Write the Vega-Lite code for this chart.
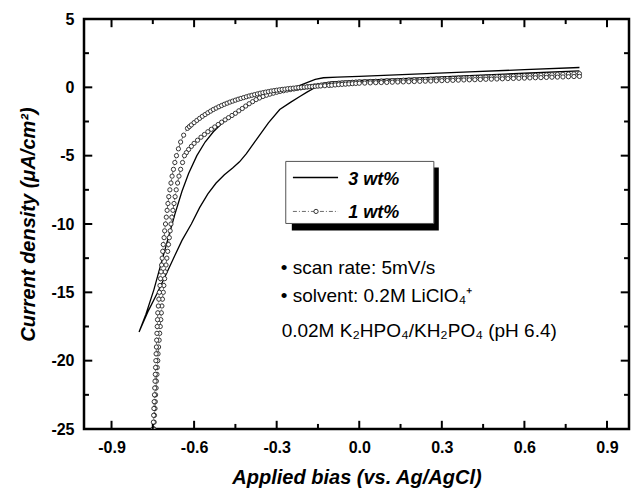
{
  "$schema": "https://vega.github.io/schema/vega-lite/v6.json",
  "width": 545,
  "height": 410,
  "autosize": {"type": "none"},
  "padding": {"left": 84, "top": 19, "right": 5, "bottom": 60},
  "background": "white",
  "config": {
    "view": {"stroke": "black", "strokeWidth": 2.5},
    "font": "Liberation Sans",
    "axis": {
      "grid": false,
      "domain": false,
      "tickColor": "black",
      "tickWidth": 2,
      "labelFont": "Liberation Sans",
      "labelFontWeight": "bold",
      "labelFontSize": 16,
      "labelColor": "black",
      "titleFont": "Liberation Sans",
      "titleFontWeight": "bold",
      "titleFontStyle": "italic",
      "titleFontSize": 20,
      "titleColor": "black"
    }
  },
  "datasets": {
    "xmaj": [{"t":-0.9},{"t":-0.6},{"t":-0.3},{"t":0.0},{"t":0.3},{"t":0.6},{"t":0.9}],
    "xmin": [{"t":-0.75},{"t":-0.45},{"t":-0.15},{"t":0.15},{"t":0.45},{"t":0.75}],
    "ymaj": [{"t":-25},{"t":-20},{"t":-15},{"t":-10},{"t":-5},{"t":0},{"t":5}],
    "ymin": [{"t":-22.5},{"t":-17.5},{"t":-12.5},{"t":-7.5},{"t":-2.5},{"t":2.5}],
    "cv": [
      {"s":"3 wt%","v":0.8,"j":1.2},{"s":"3 wt%","v":0.6,"j":1.03},{"s":"3 wt%","v":0.4,"j":0.85},{"s":"3 wt%","v":0.2,"j":0.68},{"s":"3 wt%","v":0.0,"j":0.5},{"s":"3 wt%","v":-0.1,"j":0.4},{"s":"3 wt%","v":-0.13,"j":0.3},{"s":"3 wt%","v":-0.15,"j":0.15},{"s":"3 wt%","v":-0.168,"j":-0.1},{"s":"3 wt%","v":-0.19,"j":-0.35},{"s":"3 wt%","v":-0.216,"j":-0.67},{"s":"3 wt%","v":-0.25,"j":-1.1},{"s":"3 wt%","v":-0.289,"j":-1.62},{"s":"3 wt%","v":-0.33,"j":-2.6},{"s":"3 wt%","v":-0.373,"j":-3.81},{"s":"3 wt%","v":-0.41,"j":-4.85},{"s":"3 wt%","v":-0.435,"j":-5.45},{"s":"3 wt%","v":-0.46,"j":-5.9},{"s":"3 wt%","v":-0.49,"j":-6.4},{"s":"3 wt%","v":-0.52,"j":-7.0},{"s":"3 wt%","v":-0.55,"j":-7.8},{"s":"3 wt%","v":-0.58,"j":-8.8},{"s":"3 wt%","v":-0.61,"j":-10.0},{"s":"3 wt%","v":-0.644,"j":-11.2},{"s":"3 wt%","v":-0.67,"j":-12.3},{"s":"3 wt%","v":-0.7,"j":-13.6},{"s":"3 wt%","v":-0.735,"j":-15.1},{"s":"3 wt%","v":-0.765,"j":-16.3},{"s":"3 wt%","v":-0.785,"j":-17.2},{"s":"3 wt%","v":-0.8,"j":-17.9},
      {"s":"3 wt%","v":-0.775,"j":-16.6},{"s":"3 wt%","v":-0.746,"j":-14.8},{"s":"3 wt%","v":-0.72,"j":-12.9},{"s":"3 wt%","v":-0.695,"j":-11.1},{"s":"3 wt%","v":-0.67,"j":-9.3},{"s":"3 wt%","v":-0.644,"j":-7.6},{"s":"3 wt%","v":-0.62,"j":-6.3},{"s":"3 wt%","v":-0.59,"j":-5.0},{"s":"3 wt%","v":-0.56,"j":-4.0},{"s":"3 wt%","v":-0.53,"j":-3.25},{"s":"3 wt%","v":-0.5,"j":-2.65},{"s":"3 wt%","v":-0.46,"j":-2.05},{"s":"3 wt%","v":-0.42,"j":-1.5},{"s":"3 wt%","v":-0.38,"j":-1.0},{"s":"3 wt%","v":-0.34,"j":-0.6},{"s":"3 wt%","v":-0.3,"j":-0.3},{"s":"3 wt%","v":-0.26,"j":-0.1},{"s":"3 wt%","v":-0.22,"j":0.1},{"s":"3 wt%","v":-0.19,"j":0.35},{"s":"3 wt%","v":-0.16,"j":0.58},{"s":"3 wt%","v":-0.13,"j":0.7},{"s":"3 wt%","v":-0.08,"j":0.75},{"s":"3 wt%","v":0.0,"j":0.8},{"s":"3 wt%","v":0.2,"j":0.97},{"s":"3 wt%","v":0.4,"j":1.13},{"s":"3 wt%","v":0.6,"j":1.29},{"s":"3 wt%","v":0.8,"j":1.45},

      {"s":"1 wt%","v":0.8,"j":1.0},{"s":"1 wt%","v":0.78,"j":0.985},{"s":"1 wt%","v":0.76,"j":0.97},{"s":"1 wt%","v":0.74,"j":0.955},{"s":"1 wt%","v":0.72,"j":0.94},{"s":"1 wt%","v":0.7,"j":0.925},{"s":"1 wt%","v":0.68,"j":0.91},{"s":"1 wt%","v":0.66,"j":0.895},{"s":"1 wt%","v":0.64,"j":0.88},{"s":"1 wt%","v":0.62,"j":0.865},{"s":"1 wt%","v":0.6,"j":0.85},{"s":"1 wt%","v":0.58,"j":0.835},{"s":"1 wt%","v":0.56,"j":0.82},{"s":"1 wt%","v":0.54,"j":0.805},{"s":"1 wt%","v":0.52,"j":0.79},{"s":"1 wt%","v":0.5,"j":0.775},{"s":"1 wt%","v":0.48,"j":0.76},{"s":"1 wt%","v":0.46,"j":0.745},{"s":"1 wt%","v":0.44,"j":0.73},{"s":"1 wt%","v":0.42,"j":0.715},{"s":"1 wt%","v":0.4,"j":0.7},{"s":"1 wt%","v":0.38,"j":0.685},{"s":"1 wt%","v":0.36,"j":0.67},{"s":"1 wt%","v":0.34,"j":0.655},{"s":"1 wt%","v":0.32,"j":0.64},{"s":"1 wt%","v":0.3,"j":0.625},{"s":"1 wt%","v":0.28,"j":0.61},{"s":"1 wt%","v":0.26,"j":0.595},{"s":"1 wt%","v":0.24,"j":0.58},{"s":"1 wt%","v":0.22,"j":0.565},{"s":"1 wt%","v":0.2,"j":0.55},{"s":"1 wt%","v":0.18,"j":0.535},{"s":"1 wt%","v":0.16,"j":0.52},{"s":"1 wt%","v":0.14,"j":0.505},{"s":"1 wt%","v":0.12,"j":0.49},{"s":"1 wt%","v":0.1,"j":0.475},{"s":"1 wt%","v":0.08,"j":0.46},{"s":"1 wt%","v":0.06,"j":0.445},{"s":"1 wt%","v":0.04,"j":0.43},{"s":"1 wt%","v":0.02,"j":0.415},{"s":"1 wt%","v":0.0,"j":0.4},
      {"s":"1 wt%","v":-0.0125,"j":0.385},{"s":"1 wt%","v":-0.025,"j":0.37},{"s":"1 wt%","v":-0.0375,"j":0.355},{"s":"1 wt%","v":-0.05,"j":0.34},{"s":"1 wt%","v":-0.0625,"j":0.32},{"s":"1 wt%","v":-0.075,"j":0.3},{"s":"1 wt%","v":-0.0875,"j":0.28},{"s":"1 wt%","v":-0.1,"j":0.26},{"s":"1 wt%","v":-0.1125,"j":0.23},{"s":"1 wt%","v":-0.125,"j":0.2},{"s":"1 wt%","v":-0.1375,"j":0.17},{"s":"1 wt%","v":-0.15,"j":0.14},{"s":"1 wt%","v":-0.1625,"j":0.105},{"s":"1 wt%","v":-0.175,"j":0.07},{"s":"1 wt%","v":-0.1875,"j":0.035},{"s":"1 wt%","v":-0.2,"j":0.0},{"s":"1 wt%","v":-0.2125,"j":-0.04},{"s":"1 wt%","v":-0.225,"j":-0.08},{"s":"1 wt%","v":-0.2375,"j":-0.12},{"s":"1 wt%","v":-0.25,"j":-0.16},{"s":"1 wt%","v":-0.2625,"j":-0.2},{"s":"1 wt%","v":-0.275,"j":-0.25},{"s":"1 wt%","v":-0.2875,"j":-0.3},{"s":"1 wt%","v":-0.3,"j":-0.36},{"s":"1 wt%","v":-0.3125,"j":-0.43},{"s":"1 wt%","v":-0.325,"j":-0.5},{"s":"1 wt%","v":-0.3375,"j":-0.58},{"s":"1 wt%","v":-0.35,"j":-0.67},{"s":"1 wt%","v":-0.3625,"j":-0.78},{"s":"1 wt%","v":-0.375,"j":-0.9},{"s":"1 wt%","v":-0.3875,"j":-1.05},{"s":"1 wt%","v":-0.4,"j":-1.2},{"s":"1 wt%","v":-0.4125,"j":-1.37},{"s":"1 wt%","v":-0.425,"j":-1.55},{"s":"1 wt%","v":-0.4375,"j":-1.72},{"s":"1 wt%","v":-0.45,"j":-1.9},{"s":"1 wt%","v":-0.4625,"j":-2.06},{"s":"1 wt%","v":-0.475,"j":-2.22},{"s":"1 wt%","v":-0.4875,"j":-2.38},{"s":"1 wt%","v":-0.5,"j":-2.55},{"s":"1 wt%","v":-0.5125,"j":-2.72},{"s":"1 wt%","v":-0.525,"j":-2.9},{"s":"1 wt%","v":-0.5375,"j":-3.07},{"s":"1 wt%","v":-0.55,"j":-3.25},{"s":"1 wt%","v":-0.5625,"j":-3.45},{"s":"1 wt%","v":-0.575,"j":-3.65},{"s":"1 wt%","v":-0.5875,"j":-3.87},{"s":"1 wt%","v":-0.6,"j":-4.1},{"s":"1 wt%","v":-0.61,"j":-4.32},{"s":"1 wt%","v":-0.62,"j":-4.55},{"s":"1 wt%","v":-0.628,"j":-4.78},
      {"s":"1 wt%","v":-0.635,"j":-5.0},{"s":"1 wt%","v":-0.642,"j":-5.5},{"s":"1 wt%","v":-0.649,"j":-6.0},{"s":"1 wt%","v":-0.655,"j":-6.5},{"s":"1 wt%","v":-0.66,"j":-7.0},{"s":"1 wt%","v":-0.665,"j":-7.5},{"s":"1 wt%","v":-0.669,"j":-8.0},{"s":"1 wt%","v":-0.673,"j":-8.5},{"s":"1 wt%","v":-0.677,"j":-9.0},{"s":"1 wt%","v":-0.681,"j":-9.5},{"s":"1 wt%","v":-0.684,"j":-10.0},{"s":"1 wt%","v":-0.687,"j":-10.5},{"s":"1 wt%","v":-0.69,"j":-11.0},{"s":"1 wt%","v":-0.693,"j":-11.5},{"s":"1 wt%","v":-0.696,"j":-12.0},{"s":"1 wt%","v":-0.699,"j":-12.5},{"s":"1 wt%","v":-0.702,"j":-13.0},{"s":"1 wt%","v":-0.705,"j":-13.5},{"s":"1 wt%","v":-0.707,"j":-14.0},{"s":"1 wt%","v":-0.71,"j":-14.5},{"s":"1 wt%","v":-0.712,"j":-15.0},{"s":"1 wt%","v":-0.715,"j":-15.5},{"s":"1 wt%","v":-0.717,"j":-16.0},{"s":"1 wt%","v":-0.719,"j":-16.5},{"s":"1 wt%","v":-0.721,"j":-17.0},{"s":"1 wt%","v":-0.723,"j":-17.5},{"s":"1 wt%","v":-0.725,"j":-18.0},{"s":"1 wt%","v":-0.727,"j":-18.5},{"s":"1 wt%","v":-0.729,"j":-19.0},{"s":"1 wt%","v":-0.731,"j":-19.5},{"s":"1 wt%","v":-0.732,"j":-20.0},{"s":"1 wt%","v":-0.734,"j":-20.5},{"s":"1 wt%","v":-0.735,"j":-21.0},{"s":"1 wt%","v":-0.737,"j":-21.5},{"s":"1 wt%","v":-0.738,"j":-22.0},{"s":"1 wt%","v":-0.74,"j":-22.5},{"s":"1 wt%","v":-0.741,"j":-23.0},{"s":"1 wt%","v":-0.742,"j":-23.5},{"s":"1 wt%","v":-0.744,"j":-24.0},{"s":"1 wt%","v":-0.745,"j":-24.5},{"s":"1 wt%","v":-0.746,"j":-25.0},{"s":"1 wt%","v":-0.747,"j":-25.5},
      {"s":"1 wt%","v":-0.75,"j":-25.5},{"s":"1 wt%","v":-0.749,"j":-25.0},{"s":"1 wt%","v":-0.748,"j":-24.5},{"s":"1 wt%","v":-0.747,"j":-24.0},{"s":"1 wt%","v":-0.746,"j":-23.5},{"s":"1 wt%","v":-0.745,"j":-23.0},{"s":"1 wt%","v":-0.744,"j":-22.5},{"s":"1 wt%","v":-0.743,"j":-22.0},{"s":"1 wt%","v":-0.742,"j":-21.5},{"s":"1 wt%","v":-0.741,"j":-21.0},{"s":"1 wt%","v":-0.74,"j":-20.5},{"s":"1 wt%","v":-0.739,"j":-20.0},{"s":"1 wt%","v":-0.738,"j":-19.5},{"s":"1 wt%","v":-0.737,"j":-19.0},{"s":"1 wt%","v":-0.736,"j":-18.5},{"s":"1 wt%","v":-0.735,"j":-18.0},{"s":"1 wt%","v":-0.734,"j":-17.5},{"s":"1 wt%","v":-0.733,"j":-17.0},{"s":"1 wt%","v":-0.732,"j":-16.5},{"s":"1 wt%","v":-0.73,"j":-16.0},{"s":"1 wt%","v":-0.728,"j":-15.5},{"s":"1 wt%","v":-0.726,"j":-15.0},{"s":"1 wt%","v":-0.724,"j":-14.5},{"s":"1 wt%","v":-0.722,"j":-14.0},{"s":"1 wt%","v":-0.72,"j":-13.5},{"s":"1 wt%","v":-0.718,"j":-13.0},{"s":"1 wt%","v":-0.716,"j":-12.5},{"s":"1 wt%","v":-0.714,"j":-12.0},{"s":"1 wt%","v":-0.712,"j":-11.5},{"s":"1 wt%","v":-0.709,"j":-11.0},{"s":"1 wt%","v":-0.707,"j":-10.5},{"s":"1 wt%","v":-0.704,"j":-10.0},{"s":"1 wt%","v":-0.701,"j":-9.5},{"s":"1 wt%","v":-0.698,"j":-9.0},{"s":"1 wt%","v":-0.695,"j":-8.5},{"s":"1 wt%","v":-0.692,"j":-8.0},{"s":"1 wt%","v":-0.688,"j":-7.5},{"s":"1 wt%","v":-0.684,"j":-7.0},{"s":"1 wt%","v":-0.68,"j":-6.5},{"s":"1 wt%","v":-0.675,"j":-6.0},{"s":"1 wt%","v":-0.67,"j":-5.5},{"s":"1 wt%","v":-0.664,"j":-5.0},{"s":"1 wt%","v":-0.657,"j":-4.5},{"s":"1 wt%","v":-0.649,"j":-4.0},{"s":"1 wt%","v":-0.638,"j":-3.5},{"s":"1 wt%","v":-0.624,"j":-3.0},
      {"s":"1 wt%","v":-0.617,"j":-2.87},{"s":"1 wt%","v":-0.61,"j":-2.75},{"s":"1 wt%","v":-0.6,"j":-2.58},{"s":"1 wt%","v":-0.59,"j":-2.42},{"s":"1 wt%","v":-0.58,"j":-2.27},{"s":"1 wt%","v":-0.57,"j":-2.12},{"s":"1 wt%","v":-0.56,"j":-1.99},{"s":"1 wt%","v":-0.55,"j":-1.86},{"s":"1 wt%","v":-0.54,"j":-1.74},{"s":"1 wt%","v":-0.53,"j":-1.62},{"s":"1 wt%","v":-0.52,"j":-1.52},{"s":"1 wt%","v":-0.51,"j":-1.42},{"s":"1 wt%","v":-0.5,"j":-1.33},{"s":"1 wt%","v":-0.49,"j":-1.24},{"s":"1 wt%","v":-0.48,"j":-1.16},{"s":"1 wt%","v":-0.47,"j":-1.08},{"s":"1 wt%","v":-0.46,"j":-1.01},{"s":"1 wt%","v":-0.45,"j":-0.94},{"s":"1 wt%","v":-0.44,"j":-0.87},{"s":"1 wt%","v":-0.43,"j":-0.81},{"s":"1 wt%","v":-0.42,"j":-0.75},{"s":"1 wt%","v":-0.41,"j":-0.69},{"s":"1 wt%","v":-0.4,"j":-0.63},{"s":"1 wt%","v":-0.39,"j":-0.58},{"s":"1 wt%","v":-0.38,"j":-0.53},{"s":"1 wt%","v":-0.37,"j":-0.48},{"s":"1 wt%","v":-0.36,"j":-0.43},{"s":"1 wt%","v":-0.35,"j":-0.39},{"s":"1 wt%","v":-0.34,"j":-0.35},{"s":"1 wt%","v":-0.33,"j":-0.31},{"s":"1 wt%","v":-0.32,"j":-0.27},{"s":"1 wt%","v":-0.31,"j":-0.24},{"s":"1 wt%","v":-0.3,"j":-0.21},{"s":"1 wt%","v":-0.29,"j":-0.18},{"s":"1 wt%","v":-0.28,"j":-0.15},{"s":"1 wt%","v":-0.27,"j":-0.13},{"s":"1 wt%","v":-0.26,"j":-0.1},{"s":"1 wt%","v":-0.25,"j":-0.08},{"s":"1 wt%","v":-0.24,"j":-0.06},{"s":"1 wt%","v":-0.23,"j":-0.04},{"s":"1 wt%","v":-0.22,"j":-0.02},{"s":"1 wt%","v":-0.21,"j":0.0},{"s":"1 wt%","v":-0.2,"j":0.015},{"s":"1 wt%","v":-0.19,"j":0.03},{"s":"1 wt%","v":-0.18,"j":0.045},{"s":"1 wt%","v":-0.17,"j":0.06},{"s":"1 wt%","v":-0.16,"j":0.075},{"s":"1 wt%","v":-0.15,"j":0.09},{"s":"1 wt%","v":-0.14,"j":0.1},{"s":"1 wt%","v":-0.125,"j":0.12},{"s":"1 wt%","v":-0.11,"j":0.14},{"s":"1 wt%","v":-0.1,"j":0.15},{"s":"1 wt%","v":-0.0875,"j":0.175},{"s":"1 wt%","v":-0.075,"j":0.2},{"s":"1 wt%","v":-0.0625,"j":0.215},{"s":"1 wt%","v":-0.05,"j":0.23},{"s":"1 wt%","v":-0.0375,"j":0.25},{"s":"1 wt%","v":-0.025,"j":0.27},{"s":"1 wt%","v":-0.0125,"j":0.285},{"s":"1 wt%","v":0.0,"j":0.3},
      {"s":"1 wt%","v":0.02,"j":0.31},{"s":"1 wt%","v":0.04,"j":0.325},{"s":"1 wt%","v":0.06,"j":0.34},{"s":"1 wt%","v":0.08,"j":0.35},{"s":"1 wt%","v":0.1,"j":0.36},{"s":"1 wt%","v":0.12,"j":0.375},{"s":"1 wt%","v":0.14,"j":0.39},{"s":"1 wt%","v":0.16,"j":0.4},{"s":"1 wt%","v":0.18,"j":0.41},{"s":"1 wt%","v":0.2,"j":0.425},{"s":"1 wt%","v":0.22,"j":0.44},{"s":"1 wt%","v":0.24,"j":0.45},{"s":"1 wt%","v":0.26,"j":0.46},{"s":"1 wt%","v":0.28,"j":0.475},{"s":"1 wt%","v":0.3,"j":0.49},{"s":"1 wt%","v":0.32,"j":0.5},{"s":"1 wt%","v":0.34,"j":0.51},{"s":"1 wt%","v":0.36,"j":0.525},{"s":"1 wt%","v":0.38,"j":0.54},{"s":"1 wt%","v":0.4,"j":0.55},{"s":"1 wt%","v":0.42,"j":0.56},{"s":"1 wt%","v":0.44,"j":0.575},{"s":"1 wt%","v":0.46,"j":0.59},{"s":"1 wt%","v":0.48,"j":0.6},{"s":"1 wt%","v":0.5,"j":0.61},{"s":"1 wt%","v":0.52,"j":0.625},{"s":"1 wt%","v":0.54,"j":0.64},{"s":"1 wt%","v":0.56,"j":0.65},{"s":"1 wt%","v":0.58,"j":0.66},{"s":"1 wt%","v":0.6,"j":0.675},{"s":"1 wt%","v":0.62,"j":0.69},{"s":"1 wt%","v":0.64,"j":0.7},{"s":"1 wt%","v":0.66,"j":0.71},{"s":"1 wt%","v":0.68,"j":0.725},{"s":"1 wt%","v":0.7,"j":0.74},{"s":"1 wt%","v":0.72,"j":0.75},{"s":"1 wt%","v":0.74,"j":0.76},{"s":"1 wt%","v":0.76,"j":0.775},{"s":"1 wt%","v":0.78,"j":0.79},{"s":"1 wt%","v":0.8,"j":0.8}
    ]
  },
  "data": {"name": "cv"},
  "resolve": {"axis": {"x": "independent", "y": "independent"}},
  "layer": [
    {
      "transform": [{"filter": "datum.s == '3 wt%'"}],
      "mark": {"type": "line", "color": "black", "strokeWidth": 1.3, "clip": true},
      "encoding": {
        "x": {"field": "v", "type": "quantitative", "scale": {"domain": [-1.0, 0.98], "nice": false, "zero": false},
              "axis": {"orient": "bottom", "values": [-0.9, -0.6, -0.3, 0, 0.3, 0.6, 0.9], "ticks": false, "labelPadding": 10,
                       "labelExpr": "(datum.value < -0.001 ? '-' : '') + format(abs(datum.value), '.1f')",
                       "title": "Applied bias (vs. Ag/AgCl)", "titlePadding": 12}},
        "y": {"field": "j", "type": "quantitative", "scale": {"domain": [-25, 5], "nice": false, "zero": false},
              "axis": {"orient": "left", "values": [-25, -20, -15, -10, -5, 0, 5], "ticks": false, "labelPadding": 10,
                       "labelExpr": "(datum.value < 0 ? '-' : '') + abs(datum.value)",
                       "title": "Current density (μA/cm²)", "titlePadding": 12}},
        "order": {"value": null}
      }
    },
    {
      "transform": [{"filter": "datum.s == '1 wt%'"}],
      "mark": {"type": "line", "color": "#444444", "strokeWidth": 0.8, "strokeDash": [4, 2, 1, 2], "clip": true},
      "encoding": {
        "x": {"field": "v", "type": "quantitative", "scale": {"domain": [-1.0, 0.98], "nice": false, "zero": false}, "axis": null},
        "y": {"field": "j", "type": "quantitative", "scale": {"domain": [-25, 5], "nice": false, "zero": false}, "axis": null},
        "order": {"value": null}
      }
    },
    {
      "transform": [{"filter": "datum.s == '1 wt%'"}],
      "mark": {"type": "point", "shape": "circle", "filled": true, "fill": "white", "stroke": "#222222", "strokeWidth": 0.9, "size": 18, "opacity": 1, "clip": true},
      "encoding": {
        "x": {"field": "v", "type": "quantitative", "scale": {"domain": [-1.0, 0.98], "nice": false, "zero": false}, "axis": null},
        "y": {"field": "j", "type": "quantitative", "scale": {"domain": [-25, 5], "nice": false, "zero": false}, "axis": null}
      }
    },
    {
      "data": {"name": "xmaj"},
      "mark": {"type": "rule", "color": "black", "strokeWidth": 2},
      "encoding": {
        "x": {"field": "t", "type": "quantitative", "scale": {"domain": [-1.0, 0.98], "nice": false, "zero": false}, "axis": null},
        "y": {"datum": -25, "type": "quantitative", "scale": {"domain": [-25, 5], "nice": false, "zero": false}, "axis": null},
        "y2": {"datum": -24.4}
      }
    },
    {
      "data": {"name": "xmaj"},
      "mark": {"type": "rule", "color": "black", "strokeWidth": 2},
      "encoding": {
        "x": {"field": "t", "type": "quantitative", "scale": {"domain": [-1.0, 0.98], "nice": false, "zero": false}, "axis": null},
        "y": {"datum": 5, "type": "quantitative", "scale": {"domain": [-25, 5], "nice": false, "zero": false}, "axis": null},
        "y2": {"datum": 4.4}
      }
    },
    {
      "data": {"name": "xmin"},
      "mark": {"type": "rule", "color": "black", "strokeWidth": 2},
      "encoding": {
        "x": {"field": "t", "type": "quantitative", "scale": {"domain": [-1.0, 0.98], "nice": false, "zero": false}, "axis": null},
        "y": {"datum": -25, "type": "quantitative", "scale": {"domain": [-25, 5], "nice": false, "zero": false}, "axis": null},
        "y2": {"datum": -24.63}
      }
    },
    {
      "data": {"name": "xmin"},
      "mark": {"type": "rule", "color": "black", "strokeWidth": 2},
      "encoding": {
        "x": {"field": "t", "type": "quantitative", "scale": {"domain": [-1.0, 0.98], "nice": false, "zero": false}, "axis": null},
        "y": {"datum": 5, "type": "quantitative", "scale": {"domain": [-25, 5], "nice": false, "zero": false}, "axis": null},
        "y2": {"datum": 4.63}
      }
    },
    {
      "data": {"name": "ymaj"},
      "mark": {"type": "rule", "color": "black", "strokeWidth": 2},
      "encoding": {
        "y": {"field": "t", "type": "quantitative", "scale": {"domain": [-25, 5], "nice": false, "zero": false}, "axis": null},
        "x": {"datum": -1.0, "type": "quantitative", "scale": {"domain": [-1.0, 0.98], "nice": false, "zero": false}, "axis": null},
        "x2": {"datum": -0.97}
      }
    },
    {
      "data": {"name": "ymaj"},
      "mark": {"type": "rule", "color": "black", "strokeWidth": 2},
      "encoding": {
        "y": {"field": "t", "type": "quantitative", "scale": {"domain": [-25, 5], "nice": false, "zero": false}, "axis": null},
        "x": {"datum": 0.98, "type": "quantitative", "scale": {"domain": [-1.0, 0.98], "nice": false, "zero": false}, "axis": null},
        "x2": {"datum": 0.95}
      }
    },
    {
      "data": {"name": "ymin"},
      "mark": {"type": "rule", "color": "black", "strokeWidth": 2},
      "encoding": {
        "y": {"field": "t", "type": "quantitative", "scale": {"domain": [-25, 5], "nice": false, "zero": false}, "axis": null},
        "x": {"datum": -1.0, "type": "quantitative", "scale": {"domain": [-1.0, 0.98], "nice": false, "zero": false}, "axis": null},
        "x2": {"datum": -0.982}
      }
    },
    {
      "data": {"name": "ymin"},
      "mark": {"type": "rule", "color": "black", "strokeWidth": 2},
      "encoding": {
        "y": {"field": "t", "type": "quantitative", "scale": {"domain": [-25, 5], "nice": false, "zero": false}, "axis": null},
        "x": {"datum": 0.98, "type": "quantitative", "scale": {"domain": [-1.0, 0.98], "nice": false, "zero": false}, "axis": null},
        "x2": {"datum": 0.962}
      }
    },
    {
      "data": {"values": [{}]},
      "mark": {"type": "rect", "fill": "black"},
      "encoding": {
        "x": {"datum": -0.245, "type": "quantitative", "scale": {"domain": [-1.0, 0.98], "nice": false, "zero": false}, "axis": null},
        "x2": {"datum": 0.289},
        "y": {"datum": -5.86, "type": "quantitative", "scale": {"domain": [-25, 5], "nice": false, "zero": false}, "axis": null},
        "y2": {"datum": -10.47}
      }
    },
    {
      "data": {"values": [{}]},
      "mark": {"type": "rect", "fill": "white", "stroke": "#555555", "strokeWidth": 1},
      "encoding": {
        "x": {"datum": -0.267, "type": "quantitative", "scale": {"domain": [-1.0, 0.98], "nice": false, "zero": false}, "axis": null},
        "x2": {"datum": 0.271},
        "y": {"datum": -5.42, "type": "quantitative", "scale": {"domain": [-25, 5], "nice": false, "zero": false}, "axis": null},
        "y2": {"datum": -9.96}
      }
    },
    {
      "data": {"values": [{}]},
      "mark": {"type": "rule", "color": "black", "strokeWidth": 1.5},
      "encoding": {
        "x": {"datum": -0.241, "type": "quantitative", "scale": {"domain": [-1.0, 0.98], "nice": false, "zero": false}, "axis": null},
        "x2": {"datum": -0.077},
        "y": {"datum": -6.59, "type": "quantitative", "scale": {"domain": [-25, 5], "nice": false, "zero": false}, "axis": null}
      }
    },
    {
      "data": {"values": [{}]},
      "mark": {"type": "rule", "color": "#444444", "strokeWidth": 0.8, "strokeDash": [4, 2, 1, 2]},
      "encoding": {
        "x": {"datum": -0.241, "type": "quantitative", "scale": {"domain": [-1.0, 0.98], "nice": false, "zero": false}, "axis": null},
        "x2": {"datum": -0.077},
        "y": {"datum": -9.08, "type": "quantitative", "scale": {"domain": [-25, 5], "nice": false, "zero": false}, "axis": null}
      }
    },
    {
      "data": {"values": [{}]},
      "mark": {"type": "point", "shape": "circle", "filled": true, "fill": "white", "stroke": "#222222", "strokeWidth": 0.9, "size": 18, "opacity": 1},
      "encoding": {
        "x": {"datum": -0.157, "type": "quantitative", "scale": {"domain": [-1.0, 0.98], "nice": false, "zero": false}, "axis": null},
        "y": {"datum": -9.08, "type": "quantitative", "scale": {"domain": [-25, 5], "nice": false, "zero": false}, "axis": null}
      }
    },
    {
      "data": {"values": [{}]},
      "mark": {"type": "text", "align": "left", "baseline": "middle", "font": "Liberation Sans", "fontSize": 18, "fontWeight": "bold", "fontStyle": "italic", "color": "black"},
      "encoding": {
        "x": {"datum": -0.04, "type": "quantitative", "scale": {"domain": [-1.0, 0.98], "nice": false, "zero": false}, "axis": null},
        "y": {"datum": -6.8, "type": "quantitative", "scale": {"domain": [-25, 5], "nice": false, "zero": false}, "axis": null},
        "text": {"value": "3 wt%"}
      }
    },
    {
      "data": {"values": [{}]},
      "mark": {"type": "text", "align": "left", "baseline": "middle", "font": "Liberation Sans", "fontSize": 18, "fontWeight": "bold", "fontStyle": "italic", "color": "black"},
      "encoding": {
        "x": {"datum": -0.04, "type": "quantitative", "scale": {"domain": [-1.0, 0.98], "nice": false, "zero": false}, "axis": null},
        "y": {"datum": -9.2, "type": "quantitative", "scale": {"domain": [-25, 5], "nice": false, "zero": false}, "axis": null},
        "text": {"value": "1 wt%"}
      }
    },
    {
      "data": {"values": [{}]},
      "mark": {"type": "text", "align": "left", "baseline": "middle", "font": "Liberation Sans", "fontSize": 19, "color": "black"},
      "encoding": {
        "x": {"datum": -0.285, "type": "quantitative", "scale": {"domain": [-1.0, 0.98], "nice": false, "zero": false}, "axis": null},
        "y": {"datum": -13.25, "type": "quantitative", "scale": {"domain": [-25, 5], "nice": false, "zero": false}, "axis": null},
        "text": {"value": "• scan rate: 5mV/s"}
      }
    },
    {
      "data": {"values": [{}]},
      "mark": {"type": "text", "align": "left", "baseline": "middle", "font": "Liberation Sans", "fontSize": 19, "color": "black"},
      "encoding": {
        "x": {"datum": -0.285, "type": "quantitative", "scale": {"domain": [-1.0, 0.98], "nice": false, "zero": false}, "axis": null},
        "y": {"datum": -15.3, "type": "quantitative", "scale": {"domain": [-25, 5], "nice": false, "zero": false}, "axis": null},
        "text": {"value": "• solvent: 0.2M LiClO₄⁺"}
      }
    },
    {
      "data": {"values": [{}]},
      "mark": {"type": "text", "align": "left", "baseline": "middle", "font": "Liberation Sans", "fontSize": 19, "color": "black"},
      "encoding": {
        "x": {"datum": -0.282, "type": "quantitative", "scale": {"domain": [-1.0, 0.98], "nice": false, "zero": false}, "axis": null},
        "y": {"datum": -17.86, "type": "quantitative", "scale": {"domain": [-25, 5], "nice": false, "zero": false}, "axis": null},
        "text": {"value": "0.02M K₂HPO₄/KH₂PO₄ (pH 6.4)"}
      }
    }
  ]
}
